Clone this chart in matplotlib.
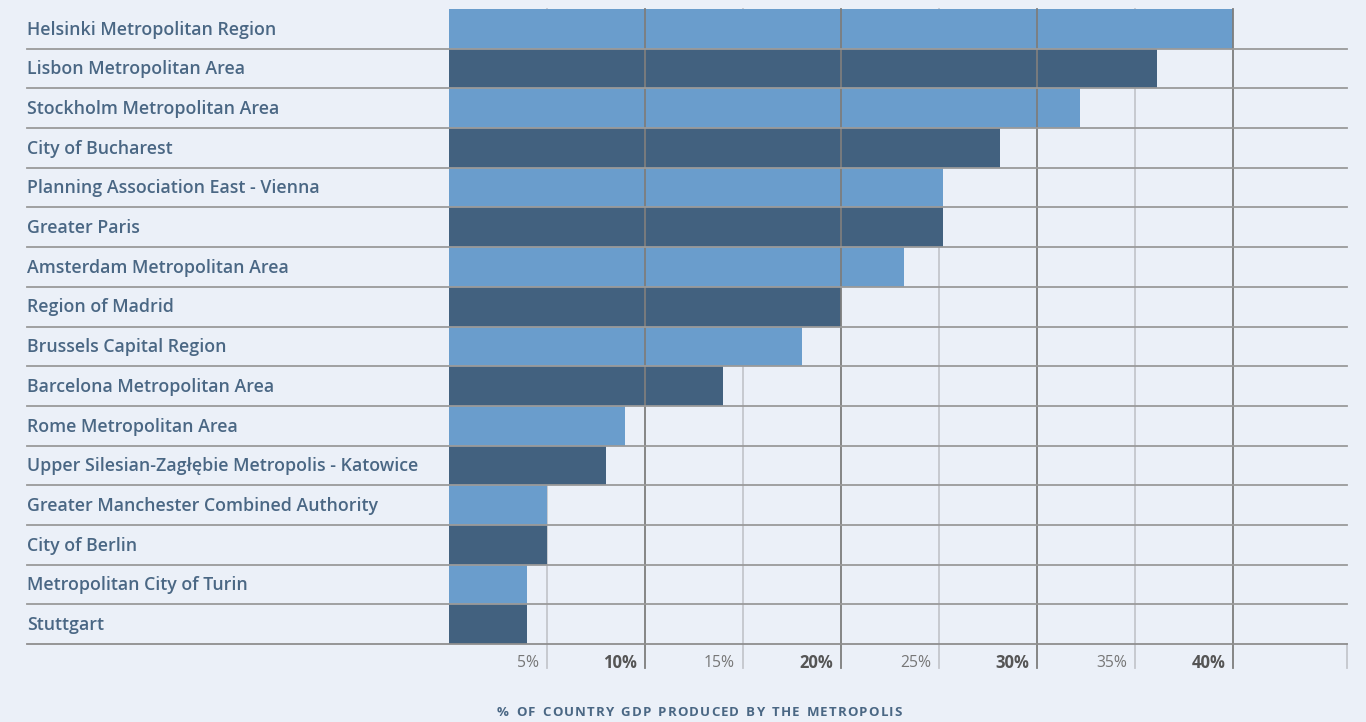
import matplotlib
matplotlib.use("Agg")
import matplotlib.pyplot as plt
import matplotlib.transforms as mtransforms
import numpy as np

regions = [
    "Helsinki Metropolitan Region",
    "Lisbon Metropolitan Area",
    "Stockholm Metropolitan Area",
    "City of Bucharest",
    "Planning Association East - Vienna",
    "Greater Paris",
    "Amsterdam Metropolitan Area",
    "Region of Madrid",
    "Brussels Capital Region",
    "Barcelona Metropolitan Area",
    "Rome Metropolitan Area",
    "Upper Silesian-Zagłębie Metropolis - Katowice",
    "Greater Manchester Combined Authority",
    "City of Berlin",
    "Metropolitan City of Turin",
    "Stuttgart",
]
gdp_share = [40, 36.1, 32.2, 28.1, 25.2, 25.2, 23.2, 20, 18, 14, 9, 8, 5, 5, 4, 4]
tick_vals = [5, 10, 15, 20, 25, 30, 35, 40]
tick_labels = ["5%", "10%", "15%", "20%", "25%", "30%", "35%", "40%"]
x_max = 45.8

BG = "#ebf0f8"
LIGHT = "#6a9dcc"
DARK = "#42617f"
TEXT = "#4a6784"

W, H = 1366, 722
fig = plt.figure(figsize=(W / 100, H / 100), dpi=100, facecolor=BG)
ax = fig.add_axes([449 / W, 1 - 644 / H, (1347 - 449) / W, (644 - 9) / H])
ax.set_facecolor(BG)

n = len(regions)
ypos = np.arange(n)
colors = [LIGHT if i % 2 == 0 else DARK for i in range(n)]
ax.barh(ypos, gdp_share, height=1.0, color=colors, zorder=2)
ax.set_xlim(0, x_max)
ax.set_ylim(n - 0.5, -0.5)
ax.axis("off")

# vertical grid: 5% lines behind bars, 10% lines on top, both run into tick area
drop = -24 / 635
vtrans = mtransforms.blended_transform_factory(ax.transData, ax.transAxes)
for v, lab in zip(tick_vals, tick_labels):
    major = v % 10 == 0
    ax.plot([v, v], [drop, 1], transform=vtrans, clip_on=False,
            color="#7d7d7d" if major else "#c4c6cc", lw=1.3,
            zorder=4 if major else 1)
    ax.annotate(lab, xy=(v, -19 / 635), xycoords=vtrans,
                xytext=(-8, 0), textcoords="offset pixels",
                ha="right", va="center", fontsize=12 if major else 11.3,
                fontweight="bold" if major else "normal",
                color="#555555" if major else "#777777", family="Open Sans")
ax.plot([x_max, x_max], [drop, 0], transform=vtrans, clip_on=False,
        color="#c4c6cc", lw=1.3, zorder=1)

# row separators spanning label column and plot
htrans = mtransforms.blended_transform_factory(fig.transFigure, ax.transData)
for i in range(n):
    ax.plot([27 / W, 1347 / W], [i + 0.5, i + 0.5], transform=htrans,
            clip_on=False, color="#9a9a9a" if i < n - 1 else "#8e8e8e",
            lw=1.3, zorder=5)

# row labels
for i, name in enumerate(regions):
    ax.text(27 / W, i + 0.02, name, transform=htrans, ha="left", va="center",
            fontsize=12.8, color=TEXT, family="Open Sans", fontweight="semibold")

# axis title with letter spacing, fitted to the reference width
title = "% OF COUNTRY GDP PRODUCED BY THE METROPOLIS"
fig.canvas.draw()
renderer = fig.canvas.get_renderer()
widths = []
for ch in title:
    t = fig.text(0, 0, ch if ch != " " else "n", fontsize=9.5, fontweight="bold",
                 family="Open Sans")
    w = t.get_window_extent(renderer).width
    if ch == " ":
        w *= 0.55
    widths.append(w)
    t.remove()
spacing = (405 - sum(widths)) / (len(title) - 1)
x = 497
for ch, w in zip(title, widths):
    if ch != " ":
        fig.text(x / W, 1 - 713 / H, ch, fontsize=9.5, fontweight="bold",
                 family="Open Sans", color=TEXT, ha="left", va="center")
    x += w + spacing

fig.savefig("out.png", dpi=100, facecolor=BG)
